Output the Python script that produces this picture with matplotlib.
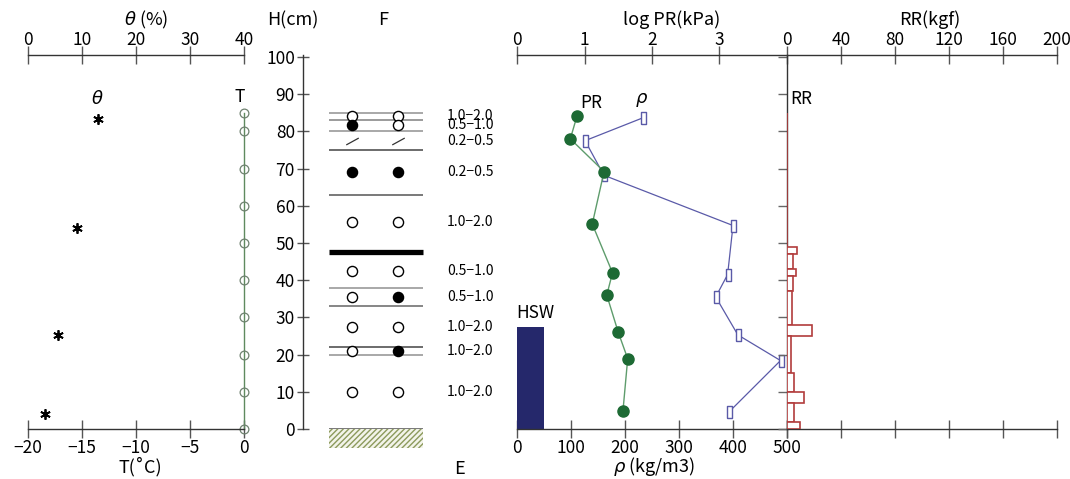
import matplotlib
matplotlib.use("Agg")
import matplotlib.pyplot as plt
from matplotlib.patches import Rectangle

plt.rcParams['font.family'] = ['Noto Sans CJK JP', 'DejaVu Sans']
plt.rcParams['mathtext.fontset'] = 'dejavusans'

# ---------------- data ----------------
theta_depth = [83.3, 54.0, 25.3, 4.0]
theta_val = [12.9, 9.1, 5.5, 3.1]

T_depth = [85, 80, 70, 60, 50, 40, 30, 20, 10, 0]
T_val = [0, 0, 0, 0, 0, 0, 0, 0, 0, 0]

layer_bounds = [85, 83, 80, 75, 63, 47.5, 38, 33, 22, 20, 0]
grain_depth = [84.2, 81.7, 77.5, 69, 55.7, 42.5, 35.5, 27.3, 21, 10]
grain_left = ['o', 'f', '/', 'f', 'o', 'o', 'o', 'o', 'o', 'o']
grain_right = ['o', 'o', '/', 'f', 'o', 'o', 'f', 'o', 'f', 'o']
grain_size = ["1.0−2.0", "0.5−1.0", "0.2−0.5", "0.2−0.5", "1.0−2.0",
              "0.5−1.0", "0.5−1.0", "1.0−2.0", "1.0−2.0", "1.0−2.0"]

PR_depth = [84.2, 78.0, 69.2, 55.1, 42.0, 36.0, 26.0, 18.9, 4.9]
PR_val = [0.89, 0.79, 1.29, 1.115, 1.415, 1.33, 1.50, 1.64, 1.57]

rho_depth = [83.7, 77.5, 68.2, 54.7, 41.5, 35.5, 25.3, 18.4, 4.5]
rho_val = [234, 126, 161, 400, 390, 368, 409, 488, 392]

HSW = 27.5

RR_bottom = [49, 47, 43, 41, 37, 28, 25, 15, 10, 7, 2, 0]
RR_top = [85, 49, 47, 43, 41, 37, 28, 25, 15, 10, 7, 2]
RR_val = [0, 7.1, 4.2, 7.0, 4.2, 3.4, 18.5, 2.7, 4.9, 12.3, 4.9, 9.3]

theta_ticks = [0, 10, 20, 30, 40]
T_ticks = [-20, -15, -10, -5, 0]
H_ticks = [0, 10, 20, 30, 40, 50, 60, 70, 80, 90, 100]
PR_ticks = [0, 1, 2, 3]
rho_ticks = [0, 100, 200, 300, 400, 500]
RR_ticks = [0, 40, 80, 120, 160, 200]

# ---------------- layout ----------------
W, HH = 1070, 479
fig = plt.figure(figsize=(10.7, 4.79), dpi=100)


def pax(x0, y0, x1, y1):
    return fig.add_axes([x0 / W, 1 - y1 / HH, (x1 - x0) / W, (y1 - y0) / HH])


def ftext(x, y, s, **kw):
    fig.text(x / W, 1 - y / HH, s, **kw)


YTOP = (429 - 55) / 3.72
AX = '#333333'
TK = '#555555'
FS = 12.5


def only_spines(ax, keep):
    for k, s in ax.spines.items():
        s.set_visible(k in keep)
        s.set_color(AX)
        s.set_linewidth(1.0)


# ---- left panel: theta / T ----
axT = pax(28, 55, 244, 429)
axT.set_xlim(-20, 0)
axT.set_ylim(0, YTOP)
only_spines(axT, ['bottom'])
axT.set_yticks([])
axT.set_xticks(T_ticks)
axT.tick_params(axis='x', direction='inout', length=13.5, width=1, color=TK,
                labelsize=FS, pad=0.5)
axT.plot(T_val, T_depth, color='#5f8a5f', lw=1, marker='o', mfc='none',
         mec='#6f8270', ms=6.3, mew=0.9, clip_on=False)

axTh = axT.twiny()
axTh.set_xlim(0, 40)
axTh.set_ylim(0, YTOP)
only_spines(axTh, ['top'])
axTh.set_xticks(theta_ticks)
axTh.set_yticks([])
axTh.tick_params(axis='x', direction='inout', length=13.5, width=1, color=TK,
                 labelsize=FS, pad=-2.5)
axTh.plot(theta_val, theta_depth, ls='none', marker=(6, 2, 0), ms=7.5,
          mec='black', mew=1.3)

# ---- H axis and F column ----
axF = pax(303, 55, 503, 429)
axF.set_xlim(0, 200)
axF.set_ylim(0, YTOP)
only_spines(axF, ['left'])
axF.set_xticks([])
axF.set_yticks(H_ticks)
axF.tick_params(axis='y', direction='inout', length=8.6, width=1, color=TK,
                labelsize=FS, pad=1.5)

bound_colors = ['#9a9a9a', '#8a8a8a', '#9a9a9a', '#444444', '#555555', 'black',
                '#9a9a9a', '#666666', '#444444', '#9a9a9a', '#555555']
bound_lw = [1.2, 1.2, 1.2, 1.1, 1.1, 3.8, 1.2, 1.1, 1.1, 1.2, 1.1]
axF.hlines(layer_bounds, 26, 120, colors=bound_colors, linewidths=bound_lw)
axF.add_patch(Rectangle((26, -5), 94, 5, facecolor='#f3f4ea', edgecolor='#8c9a5c',
                        hatch='//////', lw=0, clip_on=False, zorder=1))

slash = [(-1, -0.55), (1, 0.55)]
for col_x, kinds in ((49, grain_left), (95, grain_right)):
    for d, k in zip(grain_depth, kinds):
        if k == '/':
            axF.plot(col_x, d, marker=slash, ms=9, mec='#333333', mew=0.9,
                     fillstyle='none', ls='none')
        else:
            axF.plot(col_x, d, marker='o', ms=7.3, mec='black', mew=1,
                     mfc='black' if k == 'f' else 'white', ls='none', zorder=4)
for d, s in zip(grain_depth, grain_size):
    axF.text(144, d, s, va='center', ha='left', fontsize=10)

# ---- right panel: rho / log PR ----
axR = pax(517, 55, 787, 429)
axR.set_xlim(0, 500)
axR.set_ylim(0, YTOP)
only_spines(axR, ['bottom'])
axR.set_yticks([])
axR.set_xticks(rho_ticks)
axR.tick_params(axis='x', direction='inout', length=13.5, width=1, color=TK,
                labelsize=FS, pad=0.5)
axR.bar(0, HSW, width=50, align='edge', color='#25286b', zorder=2)
rect = [(-0.45, -1), (0.45, -1), (0.45, 1), (-0.45, 1), (-0.45, -1)]
axR.plot(rho_val, rho_depth, color='#5a5aa8', lw=0.9, marker=rect, ms=8,
         mfc='white', mec='#5a5aa8', mew=1, zorder=3)

axP = axR.twiny()
axP.set_xlim(0, 4)
axP.set_ylim(0, YTOP)
only_spines(axP, ['top'])
axP.set_yticks([])
axP.set_xticks(PR_ticks)
axP.tick_params(axis='x', direction='inout', length=13.5, width=1, color=TK,
                labelsize=FS, pad=-2.5)
axP.plot(PR_val, PR_depth, color='#5e9c6c', lw=1, marker='o', ms=8,
         mfc='#1d6a34', mec='#1d6a34')

# ---- RR ----
axRR = pax(787, 55, 1057, 429)
axRR.set_xlim(0, 200)
axRR.set_ylim(0, YTOP)
only_spines(axRR, ['left', 'top', 'bottom'])
axRR.set_xticks(RR_ticks)
axRR.xaxis.set_ticks_position('both')
axRR.tick_params(axis='x', direction='inout', length=13.5, width=1, color=TK,
                 labelsize=FS, labeltop=True, labelbottom=False, pad=-2.5)
axRR.set_yticks(H_ticks)
axRR.tick_params(axis='y', direction='out', length=6.5, width=1, color='#666666',
                 labelleft=False)
heights = [t - b for t, b in zip(RR_top, RR_bottom)]
axRR.barh(RR_bottom, RR_val, height=heights, left=0, align='edge',
          facecolor='white', edgecolor='#b23c3c', lw=1.2, zorder=3)

# ---- titles / annotations ----
ftext(146, 20, r'$\theta$ (%)', ha='center', va='center', fontsize=13)
ftext(140, 472, 'T(˚C)', ha='center', va='baseline', fontsize=13)
ftext(293, 20, 'H(cm)', ha='center', va='center', fontsize=13)
ftext(383, 20, 'F', ha='center', va='center', fontsize=13)
ftext(459, 469, 'E', ha='center', va='center', fontsize=13)
ftext(672, 20, 'log PR(kPa)', ha='center', va='center', fontsize=13)
ftext(654, 472, r'$\rho$ (kg/m3)', ha='center', va='baseline', fontsize=13)
ftext(930, 20, 'RR(kgf)', ha='center', va='center', fontsize=13)
ftext(97, 99, r'$\theta$', ha='center', va='center', fontsize=13)
ftext(240, 97, 'T', ha='center', va='center', fontsize=12.5)
ftext(591, 103, 'PR', ha='center', va='center', fontsize=12.5)
ftext(642, 100, r'$\rho$', ha='center', va='center', fontsize=13)
ftext(535, 313, 'HSW', ha='center', va='center', fontsize=12.5)
ftext(801, 99, 'RR', ha='center', va='center', fontsize=12.5)

fig.savefig('out.png', dpi=100)
